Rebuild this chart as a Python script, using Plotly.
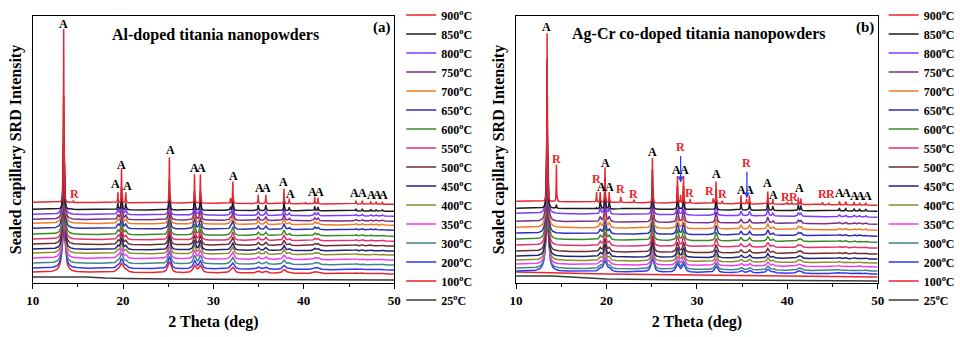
import numpy as np
import plotly.graph_objects as go

# ---------------- data ----------------
temps = ["25", "100", "200", "300", "350", "400", "450", "500",
         "550", "600", "650", "700", "750", "800", "850", "900"]
colors = ["#3a3a3a", "#e8262d", "#3535f5", "#3f8585", "#f03cf0", "#8c8c2a",
          "#22227a", "#6e2b2b", "#e0306e", "#3a8a2a", "#2e2eb8", "#f07b26",
          "#7a2e86", "#7b3cff", "#1c1c1c", "#e8262d"]

# panel (a): Al-doped
a_base_left = [6, 11, 15, 20, 25, 30, 34, 39, 44, 49, 55, 60, 64, 69, 74, 81]
a_base_right = [3, 9, 13, 18, 23, 28, 32, 37, 42, 47, 53, 58, 62, 67, 72, 79]
a_peak_pos = [13.43, 19.42, 19.83, 20.30, 25.12, 27.90, 28.55, 31.88, 32.14, 34.95,
              35.79, 37.80, 38.38, 41.20, 41.56, 45.76, 46.46, 47.40, 48.00, 48.68]
a_peak_rel = [1.0, 0.06, 0.20, 0.06, 0.264, 0.167, 0.167, 0.03, 0.126, 0.05,
              0.05, 0.086, 0.03, 0.04, 0.035, 0.02, 0.02, 0.018, 0.015, 0.015]
a_main_height = [0, 42, 46, 50, 52, 54, 57, 60, 62, 65, 68, 72, 76, 82, 114, 174]
a_fwhm = [0, 0.40, 0.35, 0.31, 0.29, 0.27, 0.25, 0.24, 0.23, 0.22, 0.21, 0.20,
          0.18, 0.16, 0.08, 0.05]
a_rutile_pos = [14.50, 40.20]
a_rutile_height = [2.0, 1.5]
a_rutile_scale = [0, 0, 0, 0, 0, 0, 0, 0, 0, 0, 0, 0, 0, 0, 0.3, 1.0]
a_amorph_x = [10, 16, 18, 20, 25, 35, 50]
a_amorph_y = [6, 6, 5, 4.5, 4, 3.5, 3]

# panel (b): Ag-Cr co-doped
b_base_left = [7, 11, 12, 15, 19, 23, 27, 32, 38, 44, 50, 56, 62, 70, 75, 82]
b_base_right = [2, 7, 9, 12, 16, 20, 24, 29, 35, 41, 47, 53, 59, 66, 72, 78]
b_peak_pos = [13.43, 19.30, 19.83, 20.30, 25.08, 27.85, 28.52, 32.12, 34.88, 35.82,
              37.84, 38.40, 41.22, 41.50, 45.76, 46.46, 47.40, 48.00, 48.68]
b_peak_rel = [1.0, 0.06, 0.207, 0.06, 0.266, 0.16, 0.16, 0.13, 0.05, 0.05,
              0.075, 0.03, 0.04, 0.035, 0.02, 0.02, 0.018, 0.015, 0.015]
b_main_height = [0, 0, 50, 52, 54, 57, 60, 62, 65, 68, 72, 76, 82, 92, 150, 169]
b_fwhm = [0, 0, 0.38, 0.33, 0.30, 0.28, 0.26, 0.25, 0.24, 0.23, 0.22, 0.21,
          0.19, 0.16, 0.08, 0.05]
b_rutile_pos = [14.46, 18.90, 21.58, 23.04, 28.20, 29.25, 31.80, 32.80, 35.50,
                40.00, 40.50, 43.90, 44.60]
b_rutile_height = [37, 10, 6, 3, 8, 4, 5, 3, 5, 2.5, 2.5, 2.5, 2]
b_rutile_scale = [0, 0, 0, 0, 0, 0, 0, 0, 0, 0, 0, 0, 0, 0, 0.1, 1.0]
b_amorph = {
    "25": ([10, 14, 17, 20, 25, 35, 50], [7, 7, 5.5, 4, 3.5, 3, 2]),
    "100": ([10, 20, 50], [11, 9, 6]),
}

# peak labels: (2theta, height, text, phase)
a_labels = [(13.43, 260, "A", "A"), (14.6, 89, "R", "R"), (19.2, 99, "A", "A"),
            (19.86, 118, "A", "A"), (20.52, 97, "A", "A"), (25.2, 134, "A", "A"),
            (27.92, 115, "A", "A"), (28.63, 115, "A", "A"), (32.25, 107, "A", "A"),
            (35.1, 95, "A", "A"), (35.86, 95, "A", "A"), (37.73, 101, "A", "A"),
            (38.5, 89, "A", "A"), (41.0, 91, "A", "A"), (41.78, 91, "A", "A"),
            (45.6, 90, "A", "A"), (46.5, 90, "A", "A"), (47.5, 88, "A", "A"),
            (48.1, 88, "A", "A"), (48.8, 88, "A", "A")]
b_labels = [(13.35, 257, "A", "A"), (14.49, 124, "R", "R"), (18.88, 104, "R", "R"),
            (19.42, 96, "A", "A"), (19.86, 120, "A", "A"), (20.3, 96, "A", "A"),
            (21.5, 94, "R", "R"), (23.04, 89, "R", "R"), (25.12, 131, "A", "A"),
            (27.75, 113, "A", "A"), (28.63, 113, "A", "A"), (29.18, 90, "R", "R"),
            (31.37, 92, "R", "R"), (32.14, 109, "A", "A"), (32.8, 89, "R", "R"),
            (34.9, 93, "A", "A"), (35.86, 93, "A", "A"), (37.84, 100, "A", "A"),
            (38.5, 88, "A", "A"), (39.8, 86, "R", "R"), (40.68, 86, "R", "R"),
            (41.34, 95, "A", "A"), (43.86, 89, "R", "R"), (44.74, 89, "R", "R"),
            (45.73, 90, "A", "A"), (46.5, 90, "A", "A"), (47.48, 87, "A", "A"),
            (48.1, 87, "A", "A"), (48.9, 87, "A", "A")]
# rutile arrows in (b): (2theta, arrow tip height)
b_arrows = [(28.20, 101), (35.53, 85)]

# ---------------- build ----------------
x = np.round(np.arange(10, 50.0001, 0.01), 2)


def lor(xx, p, h, w):
    return h / (1.0 + ((xx - p) / (w / 2.0)) ** 2)


def pattern(i, bl, br, pos, rel, main, fw, rpos, rh, rscale):
    y = bl[i] + (br[i] - bl[i]) * (x - 10) / 40.0
    for p, r in zip(pos, rel):
        y = y + lor(x, p, main[i] * r, fw[i])
    if rscale[i] > 0:
        for p, h in zip(rpos, rh):
            y = y + lor(x, p, h * rscale[i], fw[i])
    return y


SERIF = "Liberation Serif"
fig = go.Figure()

for i, t in enumerate(temps):
    name = f"{t}<sup>o</sup>C"
    if a_main_height[i] == 0:
        xs, ys = a_amorph_x, a_amorph_y
    else:
        xs = x
        ys = pattern(i, a_base_left, a_base_right, a_peak_pos, a_peak_rel,
                     a_main_height, a_fwhm, a_rutile_pos, a_rutile_height, a_rutile_scale)
    fig.add_trace(go.Scatter(x=xs, y=ys, mode="lines", name=name,
                             line=dict(color=colors[i], width=1.5),
                             xaxis="x", yaxis="y", legend="legend"))

for i, t in enumerate(temps):
    name = f"{t}<sup>o</sup>C"
    if b_main_height[i] == 0:
        xs, ys = b_amorph[t]
    else:
        xs = x
        ys = pattern(i, b_base_left, b_base_right, b_peak_pos, b_peak_rel,
                     b_main_height, b_fwhm, b_rutile_pos, b_rutile_height, b_rutile_scale)
    fig.add_trace(go.Scatter(x=xs, y=ys, mode="lines", name=name,
                             line=dict(color=colors[i], width=1.5),
                             xaxis="x2", yaxis="y2", legend="legend2"))

W, H = 960, 337
top, bottom = 15, 283
tickfont = dict(family=SERIF, size=13, color="black", weight="bold")
titlefont = dict(family=SERIF, size=16, color="black", weight="bold")


def xaxis(dom):
    return dict(domain=dom, range=[10, 50], showline=True, linecolor="black", linewidth=1,
                mirror=True, ticks="outside", tickvals=[10, 20, 30, 40, 50], ticklen=5,
                tickwidth=1, tickcolor="black",
                minor=dict(ticks="outside", tickmode="linear", tick0=10, dtick=5,
                           ticklen=3, tickcolor="black"),
                showgrid=False, zeroline=False, tickfont=tickfont,
                title=dict(text="2 Theta (deg)", font=titlefont, standoff=9))


def yaxis(anchor):
    return dict(domain=[0, 1], range=[0, 268], anchor=anchor, showline=True, linecolor="black",
                linewidth=1, mirror=True, ticks="", showticklabels=False, showgrid=False,
                zeroline=False,
                title=dict(text="Sealed capillary SRD Intensity", font=titlefont, standoff=6))


legfont = dict(family=SERIF, size=12, color="black", weight="bold")
common_leg = dict(y=1.058, yanchor="top", font=legfont, traceorder="reversed",
                  bgcolor="rgba(0,0,0,0)", borderwidth=0, itemwidth=30,
                  tracegroupgap=0, maxheight=400)
fig.update_layout(
    width=W, height=H, template="none",
    margin=dict(l=0, r=0, t=top, b=H - bottom),
    paper_bgcolor="white", plot_bgcolor="white",
    xaxis=xaxis([33 / W, 398 / W]), yaxis=yaxis("x"),
    xaxis2=xaxis([521 / W, 886 / W]), yaxis2=yaxis("x2"),
    legend=dict(x=405 / W, xanchor="left", **common_leg),
    legend2=dict(x=892 / W, xanchor="left", **common_leg),
    showlegend=True,
)

red = "#e8262d"
ann = []
for (xx, yy, txt, ph), xr, yr in [(l, "x", "y") for l in a_labels] + [(l, "x2", "y2") for l in b_labels]:
    ann.append(dict(x=xx, y=yy, xref=xr, yref=yr, text=txt, showarrow=False,
                    font=dict(family=SERIF, size=12, color=red if ph == "R" else "black",
                              weight="bold")))
for xx, yy in b_arrows:
    ann.append(dict(x=xx, y=yy, xref="x2", yref="y2", text="R", showarrow=True,
                    ax=0, ay=-35, arrowhead=2, arrowsize=0.9, arrowwidth=1.3,
                    arrowcolor="#2f3cf5",
                    font=dict(family=SERIF, size=12, color=red, weight="bold")))
ann += [
    dict(x=30.2, y=249, xref="x", yref="y", text="Al-doped titania nanopowders",
         showarrow=False, font=titlefont),
    dict(x=48.6, y=256, xref="x", yref="y", text="(a)", showarrow=False,
         font=dict(family=SERIF, size=15, color="black", weight="bold")),
    dict(x=30.27, y=250, xref="x2", yref="y2", text="Ag-Cr co-doped titania nanopowders",
         showarrow=False, font=titlefont),
    dict(x=48.58, y=256, xref="x2", yref="y2", text="(b)", showarrow=False,
         font=dict(family=SERIF, size=15, color="black", weight="bold")),
]
fig.update_layout(annotations=ann)

fig.write_html("out.html")
